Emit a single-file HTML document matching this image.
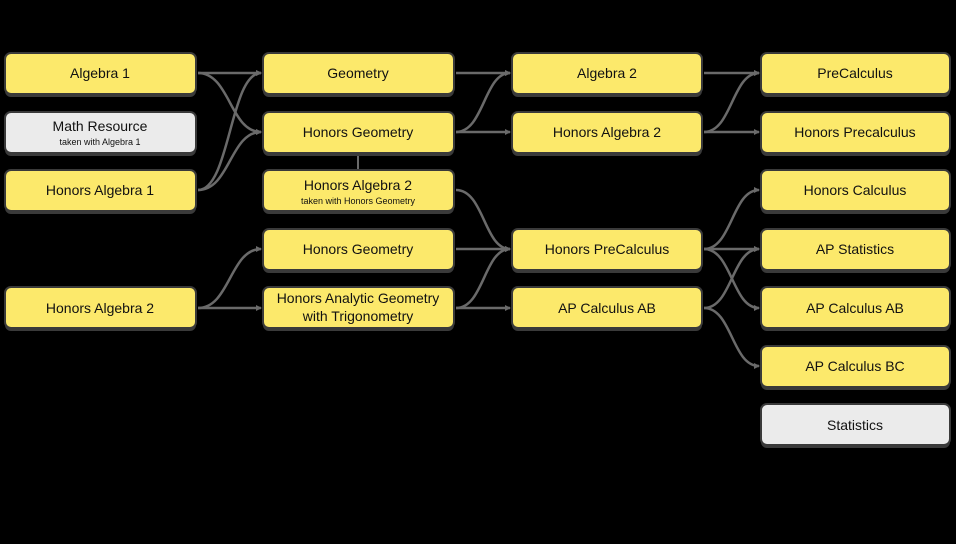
<!DOCTYPE html>
<html><head><meta charset="utf-8"><style>
html,body{margin:0;padding:0;background:#000;width:956px;height:544px;overflow:hidden}
svg{display:block}
text{font-family:"Liberation Sans",sans-serif;fill:#111;text-anchor:middle}
.t{font-size:14px}
.s{font-size:9px}
.e{fill:none;stroke:#6a6a6a;stroke-width:2.5}
</style></head><body>
<svg width="956" height="544" viewBox="0 0 956 544" xmlns="http://www.w3.org/2000/svg">
<defs><marker id="a" markerWidth="6" markerHeight="6" refX="5" refY="3" orient="auto" markerUnits="userSpaceOnUse"><path d="M0,0 L6,3 L0,6 z" fill="#6a6a6a"/></marker></defs>
<g class="e" marker-end="url(#a)">
<path d="M198,73 C230,73 230,73 261,73"/>
<path d="M198,73 C230,73 230,132 261,132"/>
<path d="M198,190 C230,190 230,73 261,73"/>
<path d="M198,190 C230,190 230,132 261,132"/>
<path d="M456,73 C484,73 484,73 510,73"/>
<path d="M456,132 C484,132 484,73 510,73"/>
<path d="M456,132 C484,132 484,132 510,132"/>
<path d="M704,73 C732,73 732,73 759,73"/>
<path d="M704,132 C732,132 732,73 759,73"/>
<path d="M704,132 C732,132 732,132 759,132"/>
<path d="M456,190 C484,190 484,249 510,249"/>
<path d="M456,249 C484,249 484,249 510,249"/>
<path d="M456,308 C484,308 484,249 510,249"/>
<path d="M456,308 C484,308 484,308 510,308"/>
<path d="M198,308 C230,308 230,249 261,249"/>
<path d="M198,308 C230,308 230,308 261,308"/>
<path d="M704,249 C732,249 732,190 759,190"/>
<path d="M704,249 C732,249 732,249 759,249"/>
<path d="M704,249 C732,249 732,308 759,308"/>
<path d="M704,308 C732,308 732,249 759,249"/>
<path d="M704,308 C732,308 732,366 759,366"/>
</g>
<line x1="358" y1="155" x2="358" y2="169" stroke="#6a6a6a" stroke-width="2"/>
<g id="boxes">
<!-- col1 -->
<rect x="5" y="55" width="191" height="42" rx="6" fill="#3a3a3a"/><rect x="5" y="53" width="191" height="41" rx="6" fill="#fce96b" stroke="#3a3a3a" stroke-width="2"/>
<rect x="5" y="114" width="191" height="42" rx="6" fill="#3a3a3a"/><rect x="5" y="112" width="191" height="41" rx="6" fill="#ebebeb" stroke="#3a3a3a" stroke-width="2"/>
<rect x="5" y="172" width="191" height="42" rx="6" fill="#3a3a3a"/><rect x="5" y="170" width="191" height="41" rx="6" fill="#fce96b" stroke="#3a3a3a" stroke-width="2"/>
<rect x="5" y="289" width="191" height="42" rx="6" fill="#3a3a3a"/><rect x="5" y="287" width="191" height="41" rx="6" fill="#fce96b" stroke="#3a3a3a" stroke-width="2"/>
<!-- col2 -->
<rect x="263" y="55" width="191" height="42" rx="6" fill="#3a3a3a"/><rect x="263" y="53" width="191" height="41" rx="6" fill="#fce96b" stroke="#3a3a3a" stroke-width="2"/>
<rect x="263" y="114" width="191" height="42" rx="6" fill="#3a3a3a"/><rect x="263" y="112" width="191" height="41" rx="6" fill="#fce96b" stroke="#3a3a3a" stroke-width="2"/>
<rect x="263" y="172" width="191" height="42" rx="6" fill="#3a3a3a"/><rect x="263" y="170" width="191" height="41" rx="6" fill="#fce96b" stroke="#3a3a3a" stroke-width="2"/>
<rect x="263" y="231" width="191" height="42" rx="6" fill="#3a3a3a"/><rect x="263" y="229" width="191" height="41" rx="6" fill="#fce96b" stroke="#3a3a3a" stroke-width="2"/>
<rect x="263" y="289" width="191" height="42" rx="6" fill="#3a3a3a"/><rect x="263" y="287" width="191" height="41" rx="6" fill="#fce96b" stroke="#3a3a3a" stroke-width="2"/>
<!-- col3 -->
<rect x="512" y="55" width="190" height="42" rx="6" fill="#3a3a3a"/><rect x="512" y="53" width="190" height="41" rx="6" fill="#fce96b" stroke="#3a3a3a" stroke-width="2"/>
<rect x="512" y="114" width="190" height="42" rx="6" fill="#3a3a3a"/><rect x="512" y="112" width="190" height="41" rx="6" fill="#fce96b" stroke="#3a3a3a" stroke-width="2"/>
<rect x="512" y="231" width="190" height="42" rx="6" fill="#3a3a3a"/><rect x="512" y="229" width="190" height="41" rx="6" fill="#fce96b" stroke="#3a3a3a" stroke-width="2"/>
<rect x="512" y="289" width="190" height="42" rx="6" fill="#3a3a3a"/><rect x="512" y="287" width="190" height="41" rx="6" fill="#fce96b" stroke="#3a3a3a" stroke-width="2"/>
<!-- col4 -->
<rect x="761" y="55" width="189" height="42" rx="6" fill="#3a3a3a"/><rect x="761" y="53" width="189" height="41" rx="6" fill="#fce96b" stroke="#3a3a3a" stroke-width="2"/>
<rect x="761" y="114" width="189" height="42" rx="6" fill="#3a3a3a"/><rect x="761" y="112" width="189" height="41" rx="6" fill="#fce96b" stroke="#3a3a3a" stroke-width="2"/>
<rect x="761" y="172" width="189" height="42" rx="6" fill="#3a3a3a"/><rect x="761" y="170" width="189" height="41" rx="6" fill="#fce96b" stroke="#3a3a3a" stroke-width="2"/>
<rect x="761" y="231" width="189" height="42" rx="6" fill="#3a3a3a"/><rect x="761" y="229" width="189" height="41" rx="6" fill="#fce96b" stroke="#3a3a3a" stroke-width="2"/>
<rect x="761" y="289" width="189" height="42" rx="6" fill="#3a3a3a"/><rect x="761" y="287" width="189" height="41" rx="6" fill="#fce96b" stroke="#3a3a3a" stroke-width="2"/>
<rect x="761" y="348" width="189" height="42" rx="6" fill="#3a3a3a"/><rect x="761" y="346" width="189" height="41" rx="6" fill="#fce96b" stroke="#3a3a3a" stroke-width="2"/>
<rect x="761" y="406" width="189" height="42" rx="6" fill="#3a3a3a"/><rect x="761" y="404" width="189" height="41" rx="6" fill="#ebebeb" stroke="#3a3a3a" stroke-width="2"/>
</g>
<text class="t" x="100" y="78">Algebra 1</text>
<text class="t" x="100" y="131">Math Resource</text>
<text class="s" x="100" y="145">taken with Algebra 1</text>
<text class="t" x="100" y="195">Honors Algebra 1</text>
<text class="t" x="100" y="313">Honors Algebra 2</text>
<text class="t" x="358" y="78">Geometry</text>
<text class="t" x="358" y="137">Honors Geometry</text>
<text class="t" x="358" y="190">Honors Algebra 2</text>
<text class="s" x="358" y="204">taken with Honors Geometry</text>
<text class="t" x="358" y="254">Honors Geometry</text>
<text class="t" x="358" y="303">Honors Analytic Geometry</text>
<text class="t" x="358" y="321">with Trigonometry</text>
<text class="t" x="607" y="78">Algebra 2</text>
<text class="t" x="607" y="137">Honors Algebra 2</text>
<text class="t" x="607" y="254">Honors PreCalculus</text>
<text class="t" x="607" y="313">AP Calculus AB</text>
<text class="t" x="855" y="78">PreCalculus</text>
<text class="t" x="855" y="137">Honors Precalculus</text>
<text class="t" x="855" y="195">Honors Calculus</text>
<text class="t" x="855" y="254">AP Statistics</text>
<text class="t" x="855" y="313">AP Calculus AB</text>
<text class="t" x="855" y="371">AP Calculus BC</text>
<text class="t" x="855" y="430">Statistics</text>
</svg>
</body></html>
